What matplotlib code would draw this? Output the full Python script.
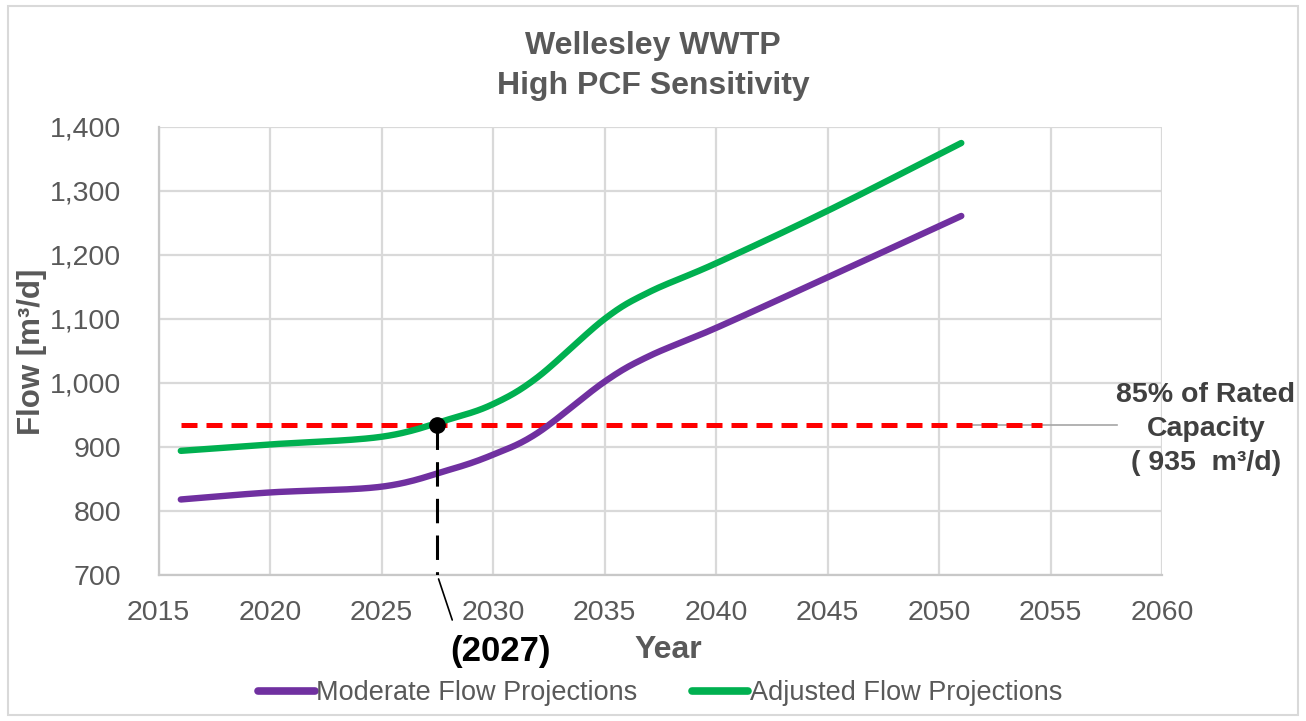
import numpy as np
import matplotlib
matplotlib.use('Agg')
import matplotlib.pyplot as plt
import matplotlib.ticker as ticker
from matplotlib import font_manager
from matplotlib.patches import Rectangle

# data
years = [2016, 2020, 2025, 2028, 2030, 2032, 2035, 2037, 2040, 2045, 2051]
moderate = [818, 829, 838, 864, 888, 922, 1002, 1042, 1086, 1165, 1261]
adjusted = [894, 904, 916, 943, 967, 1009, 1100, 1142, 1187, 1269, 1375]
capacity = 935
capacity_years = [2016, 2054.6]
cross_year = 2027.5
cross_label = '(2027)'

x_ticks = list(range(2015, 2061, 5))
y_ticks = list(range(700, 1401, 100))

PURPLE = '#7030A0'
GREEN = '#00B050'
GREY_TXT = '#595959'
GRID = '#D9D9D9'

names = {f.name for f in font_manager.fontManager.ttflist}
NARROW = 'Liberation Sans Narrow' if 'Liberation Sans Narrow' in names else 'Liberation Sans'
WIDE = 'Liberation Sans'


def smooth(x, y, n=24):
    # catmull-rom pass through the points, like Excel's smoothed line
    x = np.asarray(x, float)
    y = np.asarray(y, float)
    px = np.concatenate([[2 * x[0] - x[1]], x, [2 * x[-1] - x[-2]]])
    py = np.concatenate([[2 * y[0] - y[1]], y, [2 * y[-1] - y[-2]]])
    xs, ys = [], []
    t = np.linspace(0, 1, n, endpoint=False)
    for i in range(1, len(px) - 2):
        for p, out in ((px, xs), (py, ys)):
            p0, p1, p2, p3 = p[i - 1], p[i], p[i + 1], p[i + 2]
            out.extend(0.5 * (2 * p1 + (-p0 + p2) * t
                              + (2 * p0 - 5 * p1 + 4 * p2 - p3) * t ** 2
                              + (-p0 + 3 * p1 - 3 * p2 + p3) * t ** 3))
    xs.append(x[-1])
    ys.append(y[-1])
    return xs, ys


fig = plt.figure(figsize=(13.06, 7.21), dpi=100)
ax = fig.add_axes([158.5 / 1306, 1 - 575 / 721, (1162 - 158.5) / 1306, (575 - 127) / 721])

# outer chart border
fig.patches.append(Rectangle((8 / 1306, 6 / 721), 1 - 16 / 1306, 1 - 12 / 721,
                             transform=fig.transFigure, fill=False,
                             edgecolor=GRID, linewidth=1.5))

ax.set_xlim(2015, 2060)
ax.set_ylim(700, 1400)
ax.set_xticks(x_ticks)
ax.set_yticks(y_ticks)
ax.yaxis.set_major_formatter(ticker.FuncFormatter(lambda v, p: '{:,.0f}'.format(v)))
ax.grid(True, color=GRID, linewidth=1.6)
ax.set_axisbelow(True)
for side in ['top', 'right']:
    ax.spines[side].set_visible(False)
for side in ['left', 'bottom']:
    ax.spines[side].set_color('#C8C8C8')
    ax.spines[side].set_linewidth(1.6)
ax.tick_params(length=0, labelsize=20.5, labelcolor=GREY_TXT)
ax.tick_params(axis='y', pad=27)
ax.tick_params(axis='x', pad=18)
for lab in ax.get_xticklabels() + ax.get_yticklabels():
    lab.set_fontfamily(NARROW)

# capacity line with grey leader towards its label
ax.plot(capacity_years, [capacity, capacity], color='#FF0000', linewidth=3.6,
        dashes=(3.2, 1.8), zorder=3)
ax.plot([2051, 2058], [capacity, capacity], color='#A6A6A6', linewidth=1.2,
        clip_on=False, zorder=2)

sx, sy = smooth(years, moderate)
ax.plot(sx, sy, color=PURPLE, linewidth=4.6, solid_capstyle='round',
        label='Moderate Flow Projections', zorder=4)
sx, sy = smooth(years, adjusted)
ax.plot(sx, sy, color=GREEN, linewidth=4.6, solid_capstyle='round',
        label='Adjusted Flow Projections', zorder=4)

# crossing marker, drop line and year callout
ax.plot([cross_year, cross_year], [capacity, 700], color='black', linewidth=2.2,
        dashes=(8, 4), zorder=5)
ax.plot([cross_year], [capacity], 'o', color='black', markersize=11, zorder=6)
ax.annotate('', xy=(cross_year, 700), xytext=(15, -45), textcoords='offset pixels',
            arrowprops=dict(arrowstyle='-', color='black', lw=1.2,
                            shrinkA=0, shrinkB=3))
ax.annotate(cross_label, xy=(cross_year, 700), xytext=(63, -77),
            textcoords='offset pixels', ha='center', va='center',
            fontsize=25, fontweight='bold', color='black', family=WIDE)

fig.text(653 / 1306, 1 - 66 / 721, 'Wellesley WWTP\nHigh PCF Sensitivity',
         ha='center', va='center', fontsize=23, fontweight='bold',
         color=GREY_TXT, family=WIDE, linespacing=1.4)
fig.text(32 / 1306, 1 - 352 / 721, 'Flow [m³/d]', rotation=90,
         ha='center', va='center', fontsize=22.5, fontweight='bold',
         color=GREY_TXT, family=WIDE)
fig.text(668 / 1306, 1 - 650 / 721, 'Year', ha='center', va='center',
         fontsize=23, fontweight='bold', color=GREY_TXT, family=NARROW)
fig.text(1206 / 1306, 1 - 429 / 721, '85% of Rated\nCapacity\n( 935  m³/d)',
         ha='center', va='center', fontsize=20.5, fontweight='bold',
         color='#404040', family=NARROW, linespacing=1.42)

leg = fig.legend(loc='center', bbox_to_anchor=(660 / 1306, 1 - 693 / 721), ncol=2,
                 frameon=False, handlelength=2.1, handletextpad=0.05,
                 columnspacing=2.0, prop={'family': NARROW, 'size': 19.5},
                 labelcolor=GREY_TXT)
for line in leg.get_lines():
    line.set_linewidth(5.5)

fig.savefig('out.png', dpi=100)
